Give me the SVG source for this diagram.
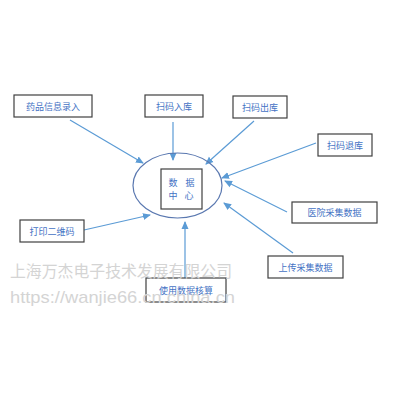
<svg xmlns="http://www.w3.org/2000/svg" width="400" height="400" viewBox="0 0 400 400">
<defs>
<marker id="ah" markerWidth="8" markerHeight="8" refX="7" refY="4" orient="auto" markerUnits="userSpaceOnUse"><path d="M0,0.5 L8,4 L0,7.5 Z" fill="#5b9bd5"/></marker>
</defs>
<style>
.box{fill:#fff;stroke:#404040;stroke-width:1.2}
.lbl{font-family:"Noto Sans CJK SC","Liberation Sans",sans-serif;font-size:9px;fill:#4472c4;text-anchor:middle;dominant-baseline:central}
.con{stroke:#5b9bd5;stroke-width:1.2;fill:none;marker-end:url(#ah)}
.wm{font-family:"Liberation Sans","Noto Sans CJK SC",sans-serif;fill:#d4d4d4}
</style>
<rect width="400" height="400" fill="#fff"/>
<g id="connectors">
<line class="con" x1="70" y1="120" x2="143" y2="163"/>
<line class="con" x1="173" y1="122" x2="173" y2="160"/>
<line class="con" x1="254" y1="121" x2="206" y2="164"/>
<line class="con" x1="316" y1="143" x2="222" y2="178"/>
<line class="con" x1="287" y1="212" x2="225" y2="181"/>
<line class="con" x1="293" y1="253" x2="224" y2="203"/>
<line class="con" x1="84" y1="230" x2="150" y2="215"/>
<line class="con" x1="185" y1="278" x2="185" y2="222"/>
</g>
<g id="center">
<ellipse cx="177.5" cy="185.5" rx="44.5" ry="32.5" fill="none" stroke="#5a78b0" stroke-width="1.2"/>
<rect class="box" x="161" y="169" width="41" height="40"/>
<text class="lbl" x="173" y="182">数</text>
<text class="lbl" x="190" y="182">据</text>
<text class="lbl" x="173" y="195">中</text>
<text class="lbl" x="189" y="195">心</text>
</g>
<g id="n1"><rect class="box" x="14" y="95" width="78" height="22"/><text class="lbl" x="53" y="106">药品信息录入</text></g>
<g id="n2"><rect class="box" x="145" y="95" width="58" height="22"/><text class="lbl" x="174" y="106">扫码入库</text></g>
<g id="n3"><rect class="box" x="233" y="96" width="54" height="22"/><text class="lbl" x="260" y="107">扫码出库</text></g>
<g id="n4"><rect class="box" x="318" y="134" width="54" height="22"/><text class="lbl" x="345" y="145">扫码退库</text></g>
<g id="n5"><rect class="box" x="292" y="202" width="85" height="21"/><text class="lbl" x="334.5" y="212.5">医院采集数据</text></g>
<g id="n6"><rect class="box" x="268" y="256" width="75" height="22"/><text class="lbl" x="305.5" y="267">上传采集数据</text></g>
<g id="n7"><rect class="box" x="20" y="220" width="64" height="22"/><text class="lbl" x="52" y="231">打印二维码</text></g>
<g id="n8"><rect class="box" x="146" y="278" width="80" height="24"/><text class="lbl" x="186" y="290">使用数据核算</text></g>
<text class="wm" x="10" y="277" font-size="15.8" textLength="222" lengthAdjust="spacingAndGlyphs">上海万杰电子技术发展有限公司</text>
<text class="wm" x="10" y="303" font-size="17" textLength="225" lengthAdjust="spacingAndGlyphs">https://wanjie66.cn.china.cn</text>
</svg>
